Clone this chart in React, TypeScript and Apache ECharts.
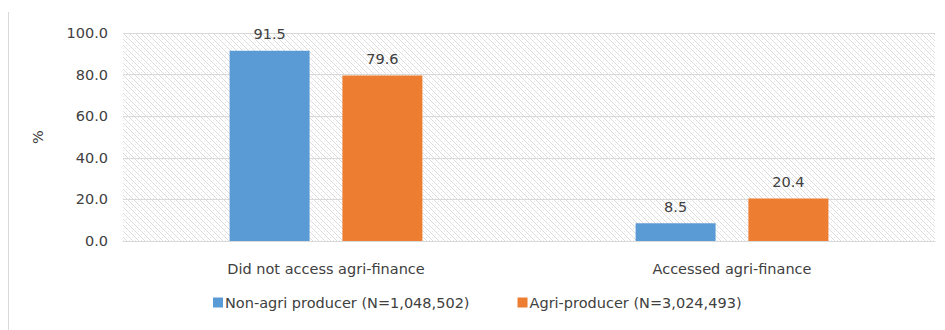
import React, { useEffect, useRef } from "react";
import * as echarts from "echarts";

const categories = ["Did not access agri-finance", "Accessed agri-finance"];
const seriesNames = ["Non-agri producer (N=1,048,502)", "Agri-producer (N=3,024,493)"];
const nonAgri = [91.5, 8.5];
const agri = [79.6, 20.4];
const yTicks = [0, 20, 40, 60, 80, 100];

function makePattern(): HTMLCanvasElement {
  const c = document.createElement("canvas");
  c.width = 6;
  c.height = 6;
  const ctx = c.getContext("2d")!;
  ctx.fillStyle = "#ffffff";
  ctx.fillRect(0, 0, 6, 6);
  ctx.fillStyle = "#dcdcdc";
  for (let i = 0; i < 6; i++) {
    ctx.fillRect(i, i, 1, 1);
  }
  ctx.fillStyle = "#e8e8e8";
  ctx.fillRect(3, 0, 1, 1);
  ctx.fillRect(0, 3, 1, 1);
  return c;
}

export default function App() {
  const ref = useRef<HTMLDivElement>(null);
  useEffect(() => {
    if (!ref.current) return;
    const chart = echarts.init(ref.current, undefined, { renderer: "svg" });
    const textColor = "#404040";
    const font = "DejaVu Sans";
    const fs = 14.5;
    chart.setOption({
      animation: false,
      backgroundColor: "#ffffff",
      textStyle: { fontFamily: font },
      grid: {
        left: 123,
        right: 10,
        top: 33,
        bottom: 89,
        show: true,
        borderWidth: 0,
        backgroundColor: { image: makePattern(), repeat: "repeat" } as any,
      },
      graphic: [
        {
          type: "line",
          shape: { x1: 8.5, y1: 12, x2: 8.5, y2: 330 },
          style: { stroke: "#d9d9d9", lineWidth: 1 },
        },
      ],
      legend: {
        left: 208,
        top: 290,
        itemWidth: 10,
        itemHeight: 10,
        itemGap: 48,
        icon: "rect",
        textStyle: { color: textColor, fontSize: fs, fontFamily: font, padding: [0, 0, 0, -3] },
        data: seriesNames,
      },
      xAxis: {
        type: "category",
        data: categories,
        axisLine: { lineStyle: { color: "#d9d9d9", width: 1 } },
        axisTick: { show: false },
        axisLabel: { color: textColor, fontSize: fs, fontFamily: font, margin: 20 },
      },
      yAxis: {
        type: "value",
        min: yTicks[0],
        max: yTicks[yTicks.length - 1],
        interval: 20,
        name: "%",
        nameLocation: "middle",
        nameRotate: 90,
        nameGap: 78,
        nameTextStyle: { color: textColor, fontSize: fs, fontFamily: font },
        axisLine: { show: false },
        axisTick: { show: false },
        splitLine: { lineStyle: { color: "#d9d9d9", width: 1 } },
        axisLabel: {
          color: textColor,
          fontSize: fs,
          fontFamily: font,
          margin: 15,
          formatter: (v: number) => v.toFixed(1),
        },
      },
      series: [
        {
          name: seriesNames[0],
          type: "bar",
          data: nonAgri,
          barWidth: 80,
          barGap: "41%",
          itemStyle: { color: "#5B9BD5" },
          label: {
            show: true,
            position: "top",
            distance: 9,
            color: textColor,
            fontSize: fs,
            fontFamily: font,
            formatter: (p: any) => p.value.toFixed(1),
          },
        },
        {
          name: seriesNames[1],
          type: "bar",
          data: agri,
          barWidth: 80,
          itemStyle: { color: "#ED7D31" },
          label: {
            show: true,
            position: "top",
            distance: 9,
            color: textColor,
            fontSize: fs,
            fontFamily: font,
            formatter: (p: any) => p.value.toFixed(1),
          },
        },
      ],
    });
    return () => chart.dispose();
  }, []);
  return (
    <div
      ref={ref}
      style={{ position: "fixed", left: 0, top: 0, width: 945, height: 330, background: "#fff" }}
    />
  );
}
